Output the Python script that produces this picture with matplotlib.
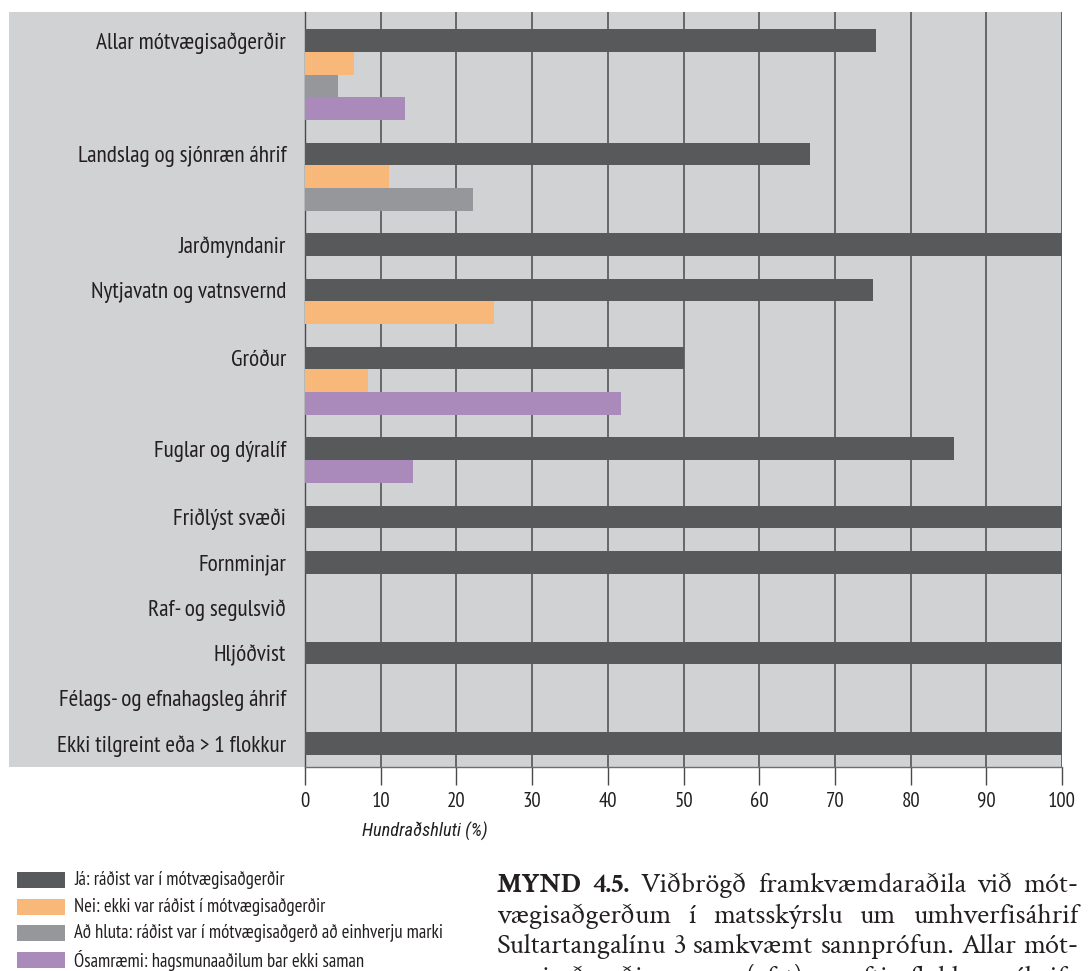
import matplotlib
matplotlib.use("Agg")
import matplotlib.pyplot as plt
from matplotlib.patches import Rectangle
from matplotlib import font_manager

W, H = 1090, 971

categories = ["Allar mótvægisaðgerðir", "Landslag og sjónræn áhrif", "Jarðmyndanir",
              "Nytjavatn og vatnsvernd", "Gróður", "Fuglar og dýralíf", "Friðlýst svæði",
              "Fornminjar", "Raf- og segulsvið", "Hljóðvist",
              "Félags- og efnahagsleg áhrif", "Ekki tilgreint eða > 1 flokkur"]
ja = [75.4, 66.7, 100, 75.0, 50.0, 85.7, 100, 100, 0, 100, 0, 100]
nei = [6.5, 11.1, 0, 25.0, 8.3, 0, 0, 0, 0, 0, 0, 0]
ad_hluta = [4.3, 22.2, 0, 0, 0, 0, 0, 0, 0, 0, 0, 0]
osamraemi = [13.2, 0, 0, 0, 41.7, 14.3, 0, 0, 0, 0, 0, 0]

series_names = ["Já: ráðist var í mótvægisaðgerðir",
                "Nei: ekki var ráðist í mótvægisaðgerðir",
                "Að hluta: ráðist var í mótvægisaðgerð að einhverju marki",
                "Ósamræmi: hagsmunaaðilum bar ekki saman"]
colors = ["#58595B", "#F8B87A", "#96979A", "#A98ABB"]
series = [ja, nei, ad_hluta, osamraemi]

xticks = [0, 10, 20, 30, 40, 50, 60, 70, 80, 90, 100]
xlabel = "Hundraðshluti (%)"

caption = [
    [("MYND", "bold"), ("4.5.", "bold"), ("Viðbrögð", "normal"), ("framkvæmdaraðila", "normal"),
     ("við", "normal"), ("mót-", "normal")],
    [(w, "normal") for w in "vægisaðgerðum í matsskýrslu um umhverfisáhrif".split()],
    [(w, "normal") for w in "Sultartangalínu 3 samkvæmt sannprófun. Allar mót-".split()],
    [(w, "normal") for w in "vægisaðgerðir saman (efst) og eftir flokkum áhrifa".split()],
]

bg = "#D1D2D4"
txt = "#231F20"
grid_c = "#4a4a4c"

fonts = font_manager.fontManager.ttflist
have = {f.name for f in fonts}
have_italic = {f.name for f in fonts if f.style in ("italic", "oblique")}

narrow = ["PT Sans Narrow", "Roboto Condensed", "Open Sans Condensed", "Fira Sans Condensed",
          "Archivo Narrow", "Asap Condensed", "IBM Plex Sans Condensed", "Encode Sans Condensed",
          "Barlow Semi Condensed", "Liberation Sans Narrow"]


def pick(cands, pool):
    for c in cands:
        if c in pool:
            return [c, "DejaVu Sans"]
    return ["DejaVu Sans"]


cond = pick(narrow, have)
cond_it = pick([n for n in narrow if n != "PT Sans Narrow"] + ["PT Sans Narrow"], have_italic)
serif = pick(["Crimson Text", "Crimson Pro", "EB Garamond", "Liberation Serif", "DejaVu Serif"], have)


def fx(x):
    return x / W


def fy(y):
    return 1 - y / H


fig = plt.figure(figsize=(W / 100, H / 100), dpi=100)
fig.patch.set_facecolor("white")
renderer = fig.canvas.get_renderer()


def fit_size(s, target_px, family, **kw):
    t = fig.text(0, 0, s, family=family, fontsize=10, **kw)
    w = t.get_window_extent(renderer).width
    t.remove()
    return 10 * target_px / w


lab_fs = fit_size("Allar mótvægisaðgerðir", 190, cond)
leg_fs = fit_size(series_names[2], 371, cond)
tick_fs = fit_size("100", 28, cond)
xl_fs = fit_size(xlabel, 126, cond_it, style="italic")
cap_fs = fit_size("Sultartangalínu 3 samkvæmt sannprófun. Allar mót-", 570, serif)

# grey panel behind the labels
fig.patches.append(Rectangle((fx(9), fy(767)), fx(305) - fx(9), fy(12) - fy(767),
                             transform=fig.transFigure, facecolor=bg, edgecolor="none", zorder=-5))

ax = fig.add_axes([fx(305), fy(767), fx(1062) - fx(305), fy(12) - fy(767)])
ax.set_facecolor(bg)

# only non-zero bars are drawn, stacked under the category label, one empty slot between groups
slot = 0
label_pos = []
for i in range(len(categories)):
    label_pos.append(slot)
    drawn = 0
    for s, c in zip(series, colors):
        if s[i] > 0:
            ax.barh(slot, s[i], height=1.0, color=c, zorder=3)
            slot += 1
            drawn += 1
    if drawn == 0:
        slot += 1
    slot += 1

ax.set_xlim(0, 100)
ax.set_ylim(32.03, -1.26)
ax.set_yticks(label_pos)
ax.set_yticklabels(categories, family=cond, fontsize=lab_fs, color=txt)
ax.tick_params(axis="y", length=0, pad=13.5)

ax.set_xticks(xticks)
ax.set_xticklabels([str(t) for t in xticks], family=cond, fontsize=tick_fs, color=txt)
ax.tick_params(axis="x", length=13.2, width=1.0, color=grid_c, pad=4.5)
ax.grid(axis="x", color=grid_c, linewidth=1.1, zorder=1)
ax.set_axisbelow(True)

for sp in ["top", "right"]:
    ax.spines[sp].set_visible(False)
ax.spines["left"].set_color(grid_c)
ax.spines["bottom"].set_color("#6d6e71")
ax.spines["left"].set_linewidth(1.0)
ax.spines["bottom"].set_linewidth(1.0)

fig.text(fx(424.5), fy(831), xlabel, family=cond_it, style="italic", fontsize=xl_fs,
         color=txt, ha="center", va="center")

# legend
for k, (name, c) in enumerate(zip(series_names, colors)):
    yc = 880 + 26.7 * k
    fig.patches.append(Rectangle((fx(17), fy(yc + 8)), fx(65) - fx(17), fy(yc - 8) - fy(yc + 8),
                                 transform=fig.transFigure, facecolor=c, edgecolor="none"))
    fig.text(fx(74), fy(yc), name, family=cond, fontsize=leg_fs, color=txt, ha="left", va="center")

# justified caption
x0, x1 = 497, 1078
baselines = [891.5, 922.5, 952.8, 984.5]
for words, yb in zip(caption, baselines):
    objs = []
    for w, weight in words:
        t = fig.text(0, fy(yb), w, family=serif, fontsize=cap_fs, weight=weight,
                     color=txt, ha="left", va="baseline")
        objs.append(t)
    widths = [t.get_window_extent(renderer).width for t in objs]
    gap = (x1 - x0 - sum(widths)) / (len(objs) - 1)
    x = x0
    for t, wd in zip(objs, widths):
        t.set_x(fx(x))
        x += wd + gap

fig.savefig("out.png", dpi=100)
